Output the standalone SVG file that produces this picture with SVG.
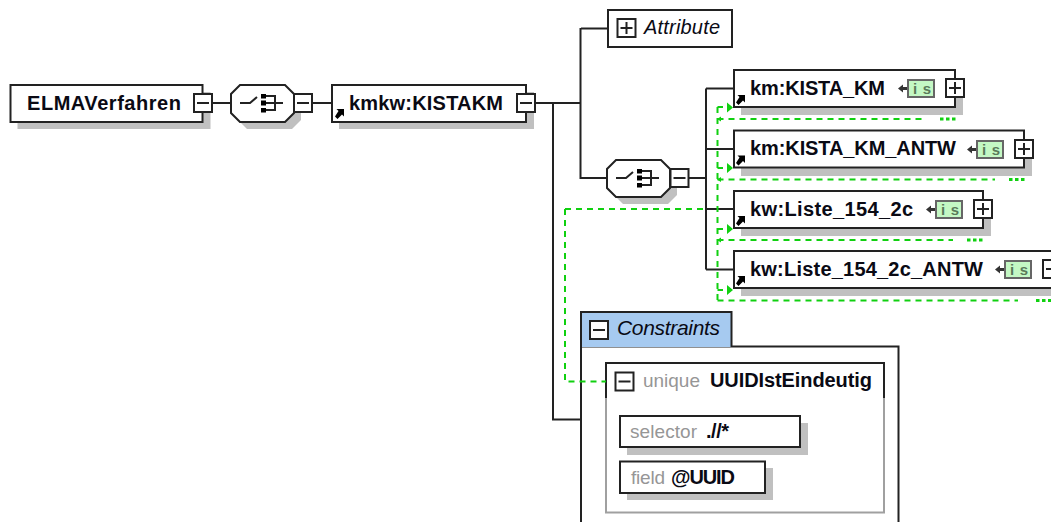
<svg xmlns="http://www.w3.org/2000/svg" xmlns:xlink="http://www.w3.org/1999/xlink" width="1051" height="522" viewBox="0 0 1051 522">
<style>
text{font-family:"Liberation Sans",Arial,sans-serif;font-size:20px;fill:#0a0a14}
.b{font-weight:bold}
.i{font-style:italic}
.g{fill:#969696;font-size:19px}
.box{fill:#fff;stroke:#222;stroke-width:2}
.sh{fill:#c0c0c0}
.tog{fill:#fff;stroke:#222;stroke-width:2}
.mk{fill:none;stroke:#222;stroke-width:2}
.ln{fill:none;stroke:#222;stroke-width:2}
.gd{fill:none;stroke:#10d010;stroke-width:2;stroke-dasharray:6 5}
.gdot{fill:none;stroke:#10d010;stroke-width:3;stroke-dasharray:3.5 2.5}
.gh{fill:#10d010}
.is{fill:#c4f8c4;stroke:#666;stroke-width:2}
.ist{font-size:15px;font-weight:bold;fill:#5a7a5a}
</style>
<defs>
<g id="plus"><rect class="tog" x="0" y="0" width="18" height="18"/><path class="mk" d="M3 9H15M9 3V15"/></g>
<g id="minus"><rect class="tog" x="0" y="0" width="18" height="18"/><path class="mk" d="M3 9H15"/></g>
<path id="ref" d="M0 7.500L2.500 10 7 5.500 9 7.500V0H1.500L3.500 2 Z" fill="#000"/>
<g id="oct">
<path class="sh" d="M16 7H61L70 16V35L61 44H16L7 35V16Z"/>
<path class="box" d="M9 0H54L63 9V28L54 37H9L0 28V9Z"/>
<path class="mk" d="M9 18H19L26 12"/>
<rect x="30" y="9" width="5" height="4.500" fill="#000"/><rect x="30" y="15.500" width="5" height="5" fill="#000"/><rect x="30" y="23" width="5" height="4.500" fill="#000"/>
<path class="mk" d="M35 11H44V25H35M35 18H52"/>
</g>
<g id="isb">
<path d="M0 9.500L5 5.500V13.500ZM4 8H9V11H4Z" fill="#333"/>
<rect class="is" x="10" y="1" width="26" height="17"/>
<text class="ist" x="15" y="15" textLength="18">i s</text>
</g>
</defs>

<g id="ELMAVerfahren">
<rect class="sh" x="17.500" y="92" width="193" height="37"/>
<rect class="box" x="10.500" y="85" width="192" height="37"/>
<text class="b" x="27" y="110" textLength="154">ELMAVerfahren</text>
<use xlink:href="#minus" x="194" y="94"/>
</g>
<g id="sequence1">
<use xlink:href="#oct" x="231" y="85"/>
<use xlink:href="#minus" x="294" y="94"/>
</g>
<g id="KISTAKM">
<rect class="sh" x="339" y="92" width="195" height="37"/>
<rect class="box" x="332" y="85" width="194" height="37"/>
<text class="b" x="349" y="110" textLength="154">kmkw:KISTAKM</text>
<use xlink:href="#ref" x="335" y="109"/>
<use xlink:href="#minus" x="517" y="94"/>
</g>
<g id="Attribute">
<rect class="box" x="608" y="10" width="124" height="37"/>
<use xlink:href="#plus" x="617.500" y="19"/>
<text class="i" x="644" y="34" textLength="76">Attribute</text>
</g>
<g id="sequence2">
<use xlink:href="#oct" x="607" y="160"/>
<use xlink:href="#minus" x="670.500" y="169"/>
</g>
<g id="KISTA_KM">
<rect class="sh" x="741" y="78" width="222" height="37"/>
<rect class="box" x="734" y="70" width="221" height="37"/>
<text class="b" x="750" y="95" textLength="135">km:KISTA_KM</text>
<use xlink:href="#ref" x="736" y="95"/>
<use xlink:href="#isb" x="898" y="79"/>
<use xlink:href="#plus" x="946" y="79"/>
</g>
<g id="KISTA_KM_ANTW">
<rect class="sh" x="741" y="139" width="291" height="37"/>
<rect class="box" x="734" y="130.500" width="290" height="37"/>
<text class="b" x="750" y="155" textLength="206">km:KISTA_KM_ANTW</text>
<use xlink:href="#ref" x="736" y="155.500"/>
<use xlink:href="#isb" x="967" y="140"/>
<use xlink:href="#plus" x="1015" y="140"/>
</g>
<g id="Liste_154_2c">
<rect class="sh" x="741" y="199" width="250" height="37"/>
<rect class="box" x="734" y="191" width="249" height="37"/>
<text class="b" x="750" y="216" textLength="163">kw:Liste_154_2c</text>
<use xlink:href="#ref" x="736" y="216"/>
<use xlink:href="#isb" x="926" y="200"/>
<use xlink:href="#plus" x="974" y="200"/>
</g>
<g id="Liste_154_2c_ANTW">
<rect class="sh" x="741" y="259" width="320" height="37"/>
<rect class="box" x="734" y="251" width="320" height="37"/>
<text class="b" x="750" y="276" textLength="233">kw:Liste_154_2c_ANTW</text>
<use xlink:href="#ref" x="736" y="276"/>
<use xlink:href="#isb" x="995" y="260"/>
<use xlink:href="#minus" x="1043" y="260"/>
</g>
<g id="Constraints">
<path d="M581 346.500H898.500V530H581Z" fill="#fff" stroke="#222" stroke-width="2"/>
<path d="M581 347V312H731.500V347Z" fill="#a6caf0"/>
<path d="M581 347V312H731.500V347" fill="none" stroke="#222" stroke-width="2"/>
<use xlink:href="#minus" x="590" y="321"/>
<text class="i" x="617" y="335" textLength="103" style="font-size:21px">Constraints</text>
</g>
<g id="UUIDIstEindeutig">
<rect x="606" y="363" width="278" height="149.500" fill="#fff" stroke="#a0a0a0" stroke-width="2"/>
<path class="ln" d="M606 398V363H884V398"/>
<use xlink:href="#minus" x="615.500" y="372.500"/>
<text class="g" x="643" y="387" textLength="57">unique</text>
<text class="b" x="710" y="387" textLength="162">UUIDIstEindeutig</text>
</g>
<g id="selector">
<rect class="sh" x="627" y="423" width="181" height="32"/>
<rect class="box" x="620" y="416" width="180" height="31"/>
<text class="g" x="630" y="438" textLength="67">selector</text>
<text class="b" x="706" y="438" textLength="23">.//*</text>
</g>
<g id="field">
<rect class="sh" x="627" y="468" width="146" height="32"/>
<rect class="box" x="620" y="461.500" width="145" height="31.500"/>
<text class="g" x="631" y="484" textLength="34">field</text>
<text class="b" x="671" y="484" textLength="64">@UUID</text>
</g>

<g id="connectors">
<path class="ln" d="M211 103H231M312 103H332M535 103H581M581 28.500H608M580.500 28V178H607M553 103V419.500H581M689 178H706M706 88.500V269.500M706 88.500H733M706 149H733M706 209H733M706 269.500H733"/>
<path class="gd" d="M565 209H706M565 209V381.500H606"/>
<path class="gd" d="M717.500 107V300"/>
<path class="gd" d="M717.500 107H723M717.500 168H723M717.500 229H723M717.500 290H723"/>
<path class="gd" d="M717.500 119H926M717.500 179.500H995M717.500 240H953M717.500 300.500H1018"/>
<path class="gdot" d="M940 119H958M1009 179.500H1027M967 240H985M1036 300.500H1051"/>
<path class="gh" d="M727 102.500L733 107.500 727 112.500ZM727 163L733 168 727 173ZM727 224L733 229 727 234ZM727 285L733 290 727 295ZM717 119L721 116.500V121.500ZM717 179.500L721 177V182ZM717 240L721 237.500V242.500Z"/>
</g>
</svg>
